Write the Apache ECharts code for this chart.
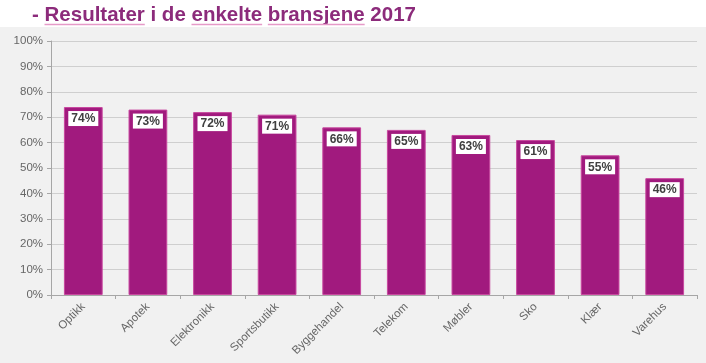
<!DOCTYPE html>
<html><head><meta charset="utf-8">
<script src="https://cdn.jsdelivr.net/npm/echarts@6/dist/echarts.min.js"></script>
<style>html,body{margin:0;padding:0;background:#fff}#c{width:706px;height:363px}</style>
</head><body><div id="c"></div>
<script>
const categories = ['Optikk','Apotek','Elektronikk','Sportsbutikk','Byggehandel','Telekom','Møbler','Sko','Klær','Varehus'];
const values = [74,73,72,71,66,65,63,61,55,46];
const titleWords = ['-','Resultater','i','de','enkelte','bransjene','2017'];
const underlined = ['Resultater','enkelte','bransjene'];

const titleFont = 'bold 20.5px "Liberation Sans", Arial, sans-serif';
const cv = document.createElement('canvas').getContext('2d');
cv.font = titleFont;
const titleX = 32;
const graphics = [
  {type:'rect', shape:{x:0,y:27,width:706,height:336}, style:{fill:'#f1f1f1'}, z:-10, silent:true},
  {type:'text', left:titleX, top:5, style:{text:titleWords.join(' '), font:titleFont, fill:'#8c2b7b'}}
];
let x = titleX;
const spaceW = cv.measureText(' ').width;
titleWords.forEach(w => {
  const ww = cv.measureText(w).width;
  if (underlined.includes(w)) {
    graphics.push({type:'line', shape:{x1:x, y1:24.5, x2:x+ww, y2:24.5}, style:{stroke:'#e59ac8', lineWidth:1.5}});
  }
  x += ww + spaceW;
});

const chart = echarts.init(document.getElementById('c'));
chart.setOption({
  backgroundColor:'#ffffff',
  animation:false,
  graphic: graphics,
  grid:{left:51, right:9, top:41, bottom:68},
  xAxis:{
    type:'category', data:categories,
    axisLine:{lineStyle:{color:'#a6a6a6'}},
    axisTick:{show:true, alignWithLabel:false, length:4, lineStyle:{color:'#a6a6a6'}},
    axisLabel:{rotate:45, color:'#666666', fontSize:11.5, fontFamily:'Liberation Sans, Arial', margin:10}
  },
  yAxis:{
    type:'value', min:0, max:100, interval:10,
    axisLine:{show:true, lineStyle:{color:'#a6a6a6'}},
    axisTick:{show:true, length:4, lineStyle:{color:'#a6a6a6'}},
    axisLabel:{formatter:'{value}%', color:'#666666', fontSize:11.5, fontFamily:'Liberation Sans, Arial', margin:8},
    splitLine:{lineStyle:{color:'#cfcfcf'}}
  },
  series:[{
    type:'bar', data:values, barWidth:'60%',
    itemStyle:{color:'#a11a7e', borderColor:'#c8489f', borderWidth:1},
    label:{show:true, position:'insideTop', distance:4, formatter:'{c}%',
      backgroundColor:'#ffffff', color:'#404040', fontSize:12, fontWeight:'bold',
      fontFamily:'Liberation Sans, Arial', padding:[2,3,1,3]}
  }]
});
</script></body></html>
